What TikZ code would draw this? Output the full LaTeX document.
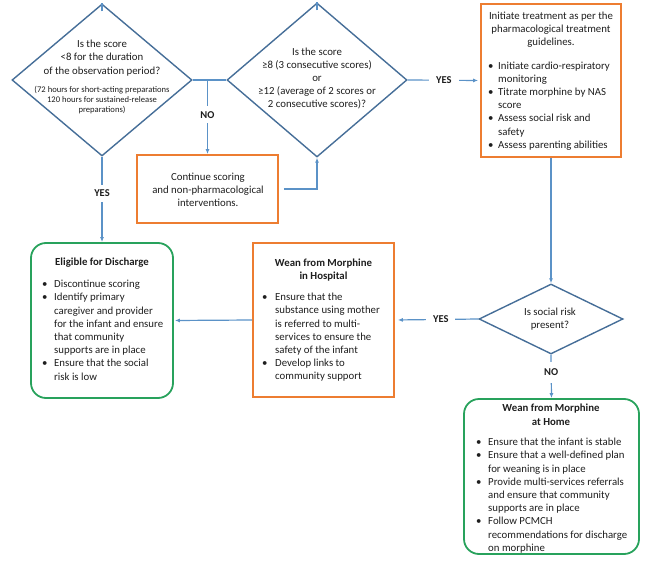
\documentclass[tikz,border=0pt]{standalone}
\usepackage{fontspec}
\setmainfont{Carlito}
\usetikzlibrary{shapes.geometric,arrows.meta}
\definecolor{connc}{RGB}{91,146,199}
\definecolor{diac}{RGB}{70,110,152}
\definecolor{orng}{RGB}{237,125,49}
\definecolor{grn}{RGB}{40,162,92}
\definecolor{txtc}{RGB}{30,30,30}
\newcommand{\bl}[2][12pt]{\makebox[#1][l]{\textbullet}#2}
\newcommand{\cl}[2][12pt]{\hspace*{#1}#2}
\begin{document}
\begin{tikzpicture}[x=1pt,y=-1pt,
  every node/.style={text=txtc},
  dshape/.style={diamond, draw=diac, line width=1.4pt, inner sep=0pt},
  obox/.style={rectangle, draw=orng, line width=1.8pt, inner sep=0pt},
  gbox/.style={rectangle, rounded corners=15pt, draw=grn, line width=1.8pt, inner sep=0pt},
  cn/.style={draw=connc, line width=1.2pt},
  arr/.style={cn, -{Latex[length=5pt,width=4pt]}},
  lab/.style={font=\fontsize{10.5}{12}\selectfont\bfseries, fill=white, inner xsep=7pt, inner ysep=5pt},
  txtn/.style={font=\fontsize{10.8}{13.2}\selectfont, inner sep=0pt, align=center},
  ttl/.style={font=\fontsize{10.8}{13.5}\selectfont\bfseries, inner sep=0pt, align=center},
  blist/.style={font=\fontsize{10.8}{13.2}\selectfont, inner sep=0pt, align=left, anchor=north west}
]
\useasboundingbox (0,0) rectangle (672,567);
\clip (0,0) rectangle (672,567);

% shapes
\node[dshape, minimum width=180pt, minimum height=152pt] (d1) at (102,80) {};
\node[dshape, minimum width=180pt, minimum height=154pt] (d2) at (317,80) {};
\node[dshape, minimum width=144pt, minimum height=70pt] (d3) at (551,319) {};
\node[obox, minimum width=141pt, minimum height=68pt] (cont) at (207.5,189) {};
\node[obox, minimum width=140pt, minimum height=153pt] (tr) at (551,80.5) {};
\node[obox, minimum width=141pt, minimum height=154pt] (hosp) at (323.5,320) {};
\node[gbox, minimum width=142pt, minimum height=155pt] (elig) at (102,320.5) {};
\node[gbox, minimum width=175pt, minimum height=155pt] (home) at (551.5,476.5) {};

% texts
\node[txtn, font=\fontsize{10.8}{13.5}\selectfont] (d1t) at (102,58) {Is the score\\<8 for the duration\\of\ the observation period?};
\node[txtn, font=\fontsize{8.6}{10}\selectfont] (d1s) at (102,100) {(72 hours for short-acting preparations\\120 hours for sustained-release\\preparations)};
\node[txtn] (d2t) at (317,78.5) {Is the score\\≥8 (3 consecutive scores)\\or\\≥12 (average of 2 scores or\\2 consecutive scores)?};
\node[txtn] (d3t) at (550,319.5) {Is social risk\\present?};
\node[txtn] (contt) at (208,190) {Continue scoring\\and non-pharmacological\\interventions.};

\node[txtn] (trt) at (551,29.5) {Initiate treatment as per the\\pharmacological treatment\\guidelines.};
\node[blist] (trl) at (488,61.5) {\bl[10pt]{Initiate cardio-respiratory}\\\cl[10pt]{monitoring}\\\bl[10pt]{Titrate morphine by NAS}\\\cl[10pt]{score}\\\bl[10pt]{Assess social risk and}\\\cl[10pt]{safety}\\\bl[10pt]{Assess parenting abilities}};

\node[ttl] (eligt) at (102,263) {Eligible for Discharge};
\node[blist] (eligl) at (42,280) {\bl{Discontinue scoring}\\\bl{Identify primary}\\\cl{caregiver and provider}\\\cl{for the infant and ensure}\\\cl{that community}\\\cl{supports are in place}\\\bl{Ensure that the social}\\\cl{risk is low}};

\node[ttl] (hospt) at (323.5,270) {Wean from Morphine\\in Hospital};
\node[blist] (hospl) at (262,293) {\bl[13pt]{Ensure that the}\\\cl[13pt]{substance using mother}\\\cl[13pt]{is referred to multi-}\\\cl[13pt]{services to ensure the}\\\cl[13pt]{safety of the infant}\\\bl[13pt]{Develop links to}\\\cl[13pt]{community support}};

\node[ttl] (homet) at (551,414.5) {Wean from Morphine\\at Home};
\node[blist] (homel) at (476,438) {\bl{Ensure that the infant is stable}\\\bl{Ensure that a well-defined plan}\\\cl{for weaning is in place}\\\bl{Provide multi-services referrals}\\\cl{and ensure that community}\\\cl{supports are in place}\\\bl{Follow PCMCH}\\\cl{recommendations for discharge}\\\cl{on morphine}};

% connectors
\coordinate (top1) at ([yshift=-8pt]d1.north);
\coordinate (top2) at ([yshift=-8pt]d2.north);
\draw[cn] (top1) -- (d1.north);
\draw[cn] (top2) -- (d2.north);
\draw[cn] (d1.east) -- (d2.west);
\coordinate (br) at (cont.north |- d1.east);
\draw[arr] (br) -- node[lab, pos=0.47] (no1) {NO} (cont.north);
\coordinate (cs) at ([xshift=5pt]cont.east);
\draw[arr] (cs) -| (d2.south);
\draw[arr, shorten >=2pt] (d2.east) -- node[lab] (yes1) {YES} (tr.west);
\draw[arr] (tr.south) -- (d3.north);
\draw[arr, shorten >=3pt] (d3.west) -- node[lab, pos=0.45] (yes2) {YES} (hosp.east);
\draw[arr, shorten >=1pt] (hosp.west) -- (elig.east);
\draw[arr] (d1.south) -- node[lab, pos=0.43] (yes3) {YES} (elig.north);
\draw[arr] (d3.south) -- node[lab, pos=0.4, inner ysep=7pt] (no2) {NO} (home.north);
\end{tikzpicture}
\end{document}
